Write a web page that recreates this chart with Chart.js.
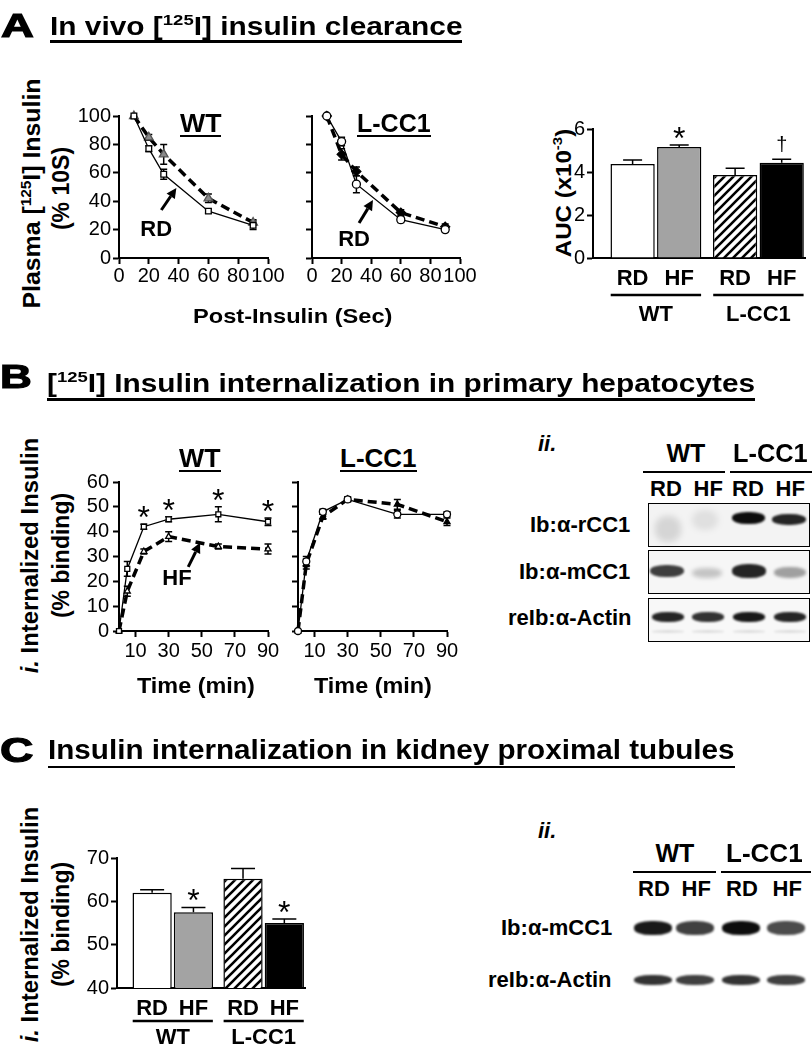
<!DOCTYPE html>
<html>
<head>
<meta charset="utf-8">
<script src="https://cdn.jsdelivr.net/npm/chart.js@4.4.1/dist/chart.umd.min.js"></script>
<style>
  body { margin: 0; background: #fff; }
  #fig { position: relative; width: 812px; height: 1050px; overflow: hidden; font-family: "Liberation Sans", Arial, sans-serif; color: #000; }
  #fig canvas { position: absolute; }
  .t { position: absolute; white-space: nowrap; line-height: 1; }
  .big { -webkit-text-stroke: 1.2px #000; }
  .sp { font-size: .62em; vertical-align: .62em; line-height: 0; }
  .ln { position: absolute; background: #000; }
  .box { position: absolute; border: 1.5px solid #000; box-sizing: border-box; }
  .band { position: absolute; border-radius: 45%; }
</style>
</head>
<body>
<div id="fig"></div>
<script>
// ---- data ----
// A: in vivo clearance (% of 10 s value)
const aTime = [10, 20, 30, 60, 90];
const aWtRd = [100, 77, 59, 33, 23];
const aWtRdErr = [0, 2, 3.5, 1.5, 3];
const aWtHf = [100, 85, 73, 42, 25];
const aWtHfErr = [0, 2, 7, 3, 2];
const aKoRd = [100, 82, 52, 27, 20];
const aKoRdErr = [0, 3, 6, 2, 1.5];
const aKoHf = [100, 73, 61, 32, 22];
const aKoHfErr = [0, 4, 3, 2, 2];
const aTicksX = [0, 20, 40, 60, 80, 100];

// A: AUC bars (x10^-3)
const barLabels = ['RD', 'HF', 'RD', 'HF'];
const barPos = [0, 1, 2.2, 3.2];
const groupNames = ['WT', 'L-CC1'];
const aucVals = [4.37, 5.16, 3.86, 4.43];
const aucErr = [0.19, 0.1, 0.31, 0.16];
const aucSig = ['', '*', '', '\u2020'];

// B: internalization in hepatocytes (% binding)
const bTime = [0, 5, 15, 30, 60, 90];
const bWtRd = [0, 25, 42, 45, 47, 44];
const bWtRdErr = [0, 3, 1, 1, 3, 1.5];
const bWtRdSig = ['', '', '*', '*', '*', '*'];
const bWtHf = [0, 16, 32, 38, 34, 33];
const bWtHfErr = [0, 2, 1, 2, 1, 2];
const bKoRd = [0, 28, 48, 53, 47, 47];
const bKoRdErr = [0, 2, 1, 1, 1.5, 1];
const bKoHf = [0, 27, 46, 53, 51, 44];
const bKoHfErr = [0, 2, 1, 1, 2, 1.5];
const bTicksX = [10, 30, 50, 70, 90];

// C: internalization in proximal tubules (% binding)
const cVals = [62, 57.5, 65.2, 55];
const cErr = [0.7, 1.1, 2.4, 0.9];
const cSig = ['', '*', '', '*'];

// ---- helpers ----
const fig = document.getElementById('fig');
const FONT = '"Liberation Sans", Arial, sans-serif';
Chart.defaults.font.family = FONT;
Chart.defaults.color = '#000';

function txt(html, x, base, size, o = {}) {
  const d = document.createElement('div');
  d.className = 't' + (o.big ? ' big' : '');
  d.innerHTML = html;
  d.style.fontSize = size + 'px';
  d.style.fontWeight = o.w || 'bold';
  fig.appendChild(d);
  const w0 = d.offsetWidth;
  const k = o.fit ? o.fit / w0 : 1;
  const w = w0 * k;
  const left = o.al === 'c' ? x - w / 2 : o.al === 'r' ? x - w : x;
  d.style.left = left + 'px';
  d.style.top = (base - 0.85 * size) + 'px';
  d.style.transformOrigin = '0 0';
  d.style.transform = 'scaleX(' + k + ')';
}
function vtxt(html, cx, cy, size, fit) {
  const d = document.createElement('div');
  d.className = 't';
  d.innerHTML = html;
  d.style.fontSize = size + 'px';
  d.style.fontWeight = 'bold';
  fig.appendChild(d);
  const w0 = d.offsetWidth;
  const k = fit ? fit / w0 : 1;
  d.style.left = (cx - w0 / 2) + 'px';
  d.style.top = (cy - size / 2) + 'px';
  d.style.transformOrigin = '50% 50%';
  d.style.transform = 'rotate(-90deg) scaleX(' + k + ')';
}
function line(x1, x2, y, t = 2.5) {
  const d = document.createElement('div');
  d.className = 'ln';
  d.style.cssText = `left:${x1}px;top:${y - t / 2}px;width:${x2 - x1}px;height:${t}px`;
  fig.appendChild(d);
}
function box(x, y, w, h, bg) {
  const d = document.createElement('div');
  d.className = 'box';
  d.style.cssText = `left:${x}px;top:${y}px;width:${w}px;height:${h}px;background:${bg}`;
  fig.appendChild(d);
}
function band(x, y, w, h, a, blur = 1.2) {
  const d = document.createElement('div');
  d.className = 'band';
  d.style.cssText = `left:${x}px;top:${y}px;width:${w}px;height:${h}px;background:rgba(0,0,0,${a});filter:blur(${blur}px)`;
  fig.appendChild(d);
}

function hatch() {
  const s = 9, c = document.createElement('canvas');
  c.width = c.height = s;
  const g = c.getContext('2d');
  g.fillStyle = '#fff'; g.fillRect(0, 0, s, s);
  g.strokeStyle = '#000'; g.lineWidth = 2.6; g.beginPath();
  g.moveTo(0, s); g.lineTo(s, 0);
  g.moveTo(-2, 2); g.lineTo(2, -2);
  g.moveTo(s - 2, s + 2); g.lineTo(s + 2, s - 2);
  g.stroke();
  return g.createPattern(c, 'repeat');
}

// error bars, significance marks, arrows and group rulers
const marks = {
  id: 'marks',
  beforeDatasetsDraw(chart) {
    const { ctx, scales: { y } } = chart;
    chart.data.datasets.forEach((ds, i) => {
      if (!ds.err) return;
      const meta = chart.getDatasetMeta(i);
      ctx.save();
      ctx.strokeStyle = '#000'; ctx.lineWidth = 1.5;
      meta.data.forEach((el, j) => {
        const e = ds.err[j]; if (!e) return;
        const v = ds.data[j].y;
        const top = y.getPixelForValue(v + e);
        const bot = ds.barErr ? y.getPixelForValue(v) : y.getPixelForValue(v - e);
        const w = ds.cap || 3.5;
        ctx.beginPath();
        ctx.moveTo(el.x, top); ctx.lineTo(el.x, bot);
        ctx.moveTo(el.x - w, top); ctx.lineTo(el.x + w, top);
        if (!ds.barErr) { ctx.moveTo(el.x - w, bot); ctx.lineTo(el.x + w, bot); }
        ctx.stroke();
      });
      ctx.restore();
    });
  },
  afterDraw(chart, args, opts) {
    const { ctx, scales: { x, y }, chartArea } = chart;
    ctx.save();
    ctx.fillStyle = '#000'; ctx.strokeStyle = '#000';
    chart.data.datasets.forEach((ds, i) => {
      if (!ds.sig) return;
      const meta = chart.getDatasetMeta(i);
      meta.data.forEach((el, j) => {
        const s = ds.sig[j]; if (!s) return;
        const top = y.getPixelForValue(ds.data[j].y + (ds.err ? ds.err[j] : 0));
        ctx.textAlign = 'center'; ctx.textBaseline = 'alphabetic';
        if (s === '*') { ctx.font = '32px ' + FONT; ctx.fillText(s, el.x, top + 4); }
        else { ctx.font = '20px ' + FONT; ctx.fillText(s, el.x, top - 8); }
      });
    });
    (opts.notes || []).forEach(n => {
      if (n.t) {
        ctx.font = 'bold 22px ' + FONT; ctx.textAlign = 'center'; ctx.textBaseline = 'middle';
        ctx.fillText(n.t, x.getPixelForValue(n.at[0]), y.getPixelForValue(n.at[1]));
      } else {
        const x1 = x.getPixelForValue(n.from[0]), y1 = y.getPixelForValue(n.from[1]);
        const x2 = x.getPixelForValue(n.to[0]), y2 = y.getPixelForValue(n.to[1]);
        const a = Math.atan2(y2 - y1, x2 - x1), L = 10, W = 5;
        const bx = x2 - L * Math.cos(a), by = y2 - L * Math.sin(a);
        ctx.lineWidth = 3; ctx.beginPath(); ctx.moveTo(x1, y1); ctx.lineTo(bx, by); ctx.stroke();
        ctx.beginPath(); ctx.moveTo(x2, y2);
        ctx.lineTo(bx + W * Math.sin(a), by - W * Math.cos(a));
        ctx.lineTo(bx - W * Math.sin(a), by + W * Math.cos(a));
        ctx.closePath(); ctx.fill();
      }
    });
    if (opts.groups) {
      const g = opts.groups;
      g.items.forEach(it => {
        const x1 = x.getPixelForValue(it.a - 0.47), x2 = x.getPixelForValue(it.b + 0.47);
        ctx.lineWidth = 2.5; ctx.beginPath();
        ctx.moveTo(x1, chartArea.bottom + g.lineY); ctx.lineTo(x2, chartArea.bottom + g.lineY); ctx.stroke();
        ctx.font = 'bold ' + g.fs + 'px ' + FONT; ctx.textAlign = 'center'; ctx.textBaseline = 'alphabetic';
        ctx.fillText(it.t, (x1 + x2) / 2, chartArea.bottom + g.textY);
      });
    }
    ctx.restore();
  }
};

function zero(s) { s.paddingLeft = s.paddingRight = s.paddingTop = s.paddingBottom = 0; }

function makeChart(f, cfg) {
  const cv = document.createElement('canvas');
  cv.width = f.W; cv.height = f.H;
  cv.style.cssText = `left:${f.L}px;top:${f.T}px;width:${f.W}px;height:${f.H}px`;
  fig.appendChild(cv);
  const o = cfg.options;
  o.responsive = false; o.animation = false; o.devicePixelRatio = 1;
  o.layout = { padding: { top: f.Y0 - f.T, right: f.L + f.W - f.X1, left: 0, bottom: 0 } };
  o.plugins = Object.assign({ legend: { display: false }, tooltip: { enabled: false } }, o.plugins || {});
  o.scales.y.afterFit = s => { s.width = f.X0 - f.L; zero(s); };
  o.scales.x.afterFit = s => { s.height = f.T + f.H - f.Y1; zero(s); };
  cfg.plugins = [marks];
  return new Chart(cv, cfg);
}

function axis(min, max, o = {}) {
  return {
    type: 'linear', min, max, offset: false,
    border: { display: true, color: '#000', width: 2 },
    grid: { drawOnChartArea: false, drawTicks: o.noTicks ? false : true, tickLength: o.tl ?? 6, tickWidth: 2, tickColor: '#000', offset: false },
    ticks: {
      stepSize: o.step, color: '#000', autoSkip: false, maxRotation: 0,
      font: { size: o.fs || 20, weight: o.bold ? 'bold' : 'normal' },
      padding: o.pad ?? 2,
      callback: o.cb
    },
    afterBuildTicks: o.ticks ? (s => { s.ticks = o.ticks.map(v => ({ value: v })); }) : undefined
  };
}

function series(xs, ys, err, st) {
  return Object.assign({
    data: xs.map((x, i) => ({ x, y: ys[i] })), err,
    borderColor: '#000', tension: 0, clip: false,
    pointBorderColor: '#000', pointBorderWidth: 1.3
  }, st);
}
const RD = { borderWidth: 1.3, pointBackgroundColor: '#fff' };
const HF = { borderWidth: 3.5, borderDash: [9, 5] };
const blank = () => '';

// ---- panel A ----
txt('A', 1, 37, 33, { fit: 33, big: true });
txt('In vivo [<span class="sp">125</span>I] insulin clearance', 50, 35, 25, { fit: 412 });
line(50, 462, 41.5);
txt('WT', 180, 132, 26, { fit: 41 }); line(180, 221, 135.5, 2);
txt('L-CC1', 357, 132, 26, { fit: 74 }); line(357, 431, 135.5, 2);
vtxt('Plasma [<span class="sp">125</span>I] Insulin', 32, 193, 23, 230);
vtxt('(% 10S)', 61, 188, 23, 83);
txt('Post-Insulin (Sec)', 193, 323, 21, { fit: 199 });
vtxt('AUC (x10<span class="sp">-3</span>)', 563, 193, 22, 128);

makeChart({ L: 60, T: 100, W: 230, H: 190, X0: 119, Y0: 116, X1: 268, Y1: 258 }, {
  type: 'line',
  data: { datasets: [
    series(aTime, aWtRd, aWtRdErr, Object.assign({ pointStyle: 'rect', pointRadius: 4 }, RD)),
    series(aTime, aWtHf, aWtHfErr, Object.assign({ pointStyle: 'triangle', pointRadius: 5, pointBackgroundColor: '#8a8a8a', pointBorderColor: '#555' }, HF))
  ] },
  options: {
    scales: { x: axis(0, 100, { step: 20, ticks: aTicksX, pad: 0 }), y: axis(0, 100, { step: 20 }) },
    plugins: { marks: { notes: [{ t: 'RD', at: [25, 20] }, { from: [28.4, 33.8], to: [38.5, 49.3] }] } }
  }
});

makeChart({ L: 280, T: 100, W: 205, H: 190, X0: 312, Y0: 116, X1: 460, Y1: 258 }, {
  type: 'line',
  data: { datasets: [
    series(aTime, aKoRd, aKoRdErr, Object.assign({ pointStyle: 'circle', pointRadius: 4 }, RD)),
    series(aTime, aKoHf, aKoHfErr, Object.assign({ pointStyle: 'rectRot', pointRadius: 4.5, pointBackgroundColor: '#000' }, HF))
  ] },
  options: {
    scales: { x: axis(0, 100, { step: 20, ticks: aTicksX, pad: 0 }), y: axis(0, 100, { step: 20, cb: blank }) },
    plugins: { marks: { notes: [{ t: 'RD', at: [28.4, 12.7] }, { from: [31.8, 24.6], to: [41.2, 40.8] }] } }
  }
});

function barSet(vals, err, sig, cap) {
  return {
    data: barPos.map((x, i) => ({ x, y: vals[i] })), err, sig, cap, barErr: true,
    backgroundColor: ['#fff', '#a3a3a3', hatch(), '#000'],
    borderColor: '#000', borderWidth: 1.5,
    barPercentage: 0.95, categoryPercentage: 1
  };
}
function barX() {
  return axis(-0.85, 3.7, { noTicks: true, ticks: barPos, fs: 22, bold: true, pad: 8, cb: (v, i) => barLabels[i] });
}
const groupItems = [{ t: groupNames[0], a: barPos[0], b: barPos[1] }, { t: groupNames[1], a: barPos[2], b: barPos[3] }];

makeChart({ L: 540, T: 100, W: 272, H: 230, X0: 593, Y0: 129, X1: 805, Y1: 258 }, {
  type: 'bar',
  data: { datasets: [barSet(aucVals, aucErr, aucSig, 9.5)] },
  options: {
    scales: { x: barX(), y: axis(0, 6, { step: 2 }) },
    plugins: { marks: { groups: { items: groupItems, lineY: 37, textY: 63, fs: 22 } } }
  }
});

// ---- panel B ----
txt('B', 0, 388, 33, { fit: 32, big: true });
txt('[<span class="sp">125</span>I] Insulin internalization in primary hepatocytes', 47, 392, 25, { fit: 708 });
line(47, 755, 399.5);
txt('WT', 179, 467, 26, { fit: 41 }); line(179, 221, 471, 2);
txt('L-CC1', 340, 467, 26, { fit: 77 }); line(340, 417, 471, 2);
vtxt('<i>i.</i> Internalized Insulin', 30, 555, 23, 235);
vtxt('(% binding)', 61, 555, 23);
txt('Time (min)', 196, 694, 22, { al: 'c', fit: 118 });
txt('Time (min)', 373, 694, 22, { al: 'c', fit: 118 });

makeChart({ L: 60, T: 460, W: 225, H: 210, X0: 119, Y0: 482, X1: 268, Y1: 631 }, {
  type: 'line',
  data: { datasets: [
    Object.assign(series(bTime, bWtRd, bWtRdErr, Object.assign({ pointStyle: 'rect', pointRadius: 3.5 }, RD)), { sig: bWtRdSig }),
    series(bTime, bWtHf, bWtHfErr, Object.assign({ pointStyle: 'triangle', pointRadius: 3.5, pointBackgroundColor: '#fff' }, HF))
  ] },
  options: {
    scales: { x: axis(0, 90, { ticks: bTicksX, pad: 2 }), y: axis(0, 60, { step: 10, pad: 4 }) },
    plugins: { marks: { notes: [{ t: 'HF', at: [35, 21] }, { from: [41.8, 25.8], to: [49, 35.5] }] } }
  }
});

makeChart({ L: 270, T: 460, W: 200, H: 210, X0: 298, Y0: 482, X1: 447, Y1: 631 }, {
  type: 'line',
  data: { datasets: [
    series(bTime, bKoRd, bKoRdErr, Object.assign({ pointStyle: 'circle', pointRadius: 3.5 }, RD)),
    series(bTime, bKoHf, bKoHfErr, Object.assign({ pointStyle: 'triangle', pointRadius: 3.5, pointBackgroundColor: '#000' }, HF))
  ] },
  options: {
    scales: { x: axis(0, 90, { ticks: bTicksX, pad: 2 }), y: axis(0, 60, { step: 10, cb: blank }) }
  }
});

// B ii. immunoblots
txt('<i>ii.</i>', 538, 452, 22);
txt('WT', 686, 462, 25, { al: 'c' });
txt('L-CC1', 770, 462, 25, { al: 'c', fit: 75 });
line(643, 725, 472); line(730, 812, 472);
[['RD', 666], ['HF', 708], ['RD', 748], ['HF', 790]].forEach(l => txt(l[0], l[1], 497, 22, { al: 'c' }));
txt('Ib:\u03b1-rCC1', 630, 533, 22, { al: 'r' });
txt('Ib:\u03b1-mCC1', 630, 580, 22, { al: 'r' });
txt('reIb:\u03b1-Actin', 632, 626, 22, { al: 'r' });
box(648, 503, 162, 44, '#f3f3f3');
box(648, 550, 162, 44, '#f6f6f6');
box(648, 598, 162, 44, '#f8f8f8');
band(655, 516, 26, 26, 0.12, 3); band(692, 510, 26, 20, 0.08, 3);
band(732, 512, 33, 12, 0.95); band(772, 514, 34, 11, 0.85);
band(650, 565, 34, 12, 0.75); band(692, 568, 30, 10, 0.2, 2);
band(732, 564, 34, 14, 0.85); band(774, 567, 32, 11, 0.35, 1.5);
[652, 692, 733, 774].forEach((x, i) => { band(x, 612, 32, 10, [0.85, 0.8, 0.9, 0.85][i]); band(x, 630, 32, 3, 0.1, 1); });

// ---- panel C ----
txt('C', 0, 762, 35, { fit: 33, big: true });
txt('Insulin internalization in kidney proximal tubules', 48, 760, 27, { fit: 687 });
line(48, 735, 767);
vtxt('<i>i.</i> Internalized Insulin', 30, 924, 23, 235);
vtxt('(% binding)', 61, 924, 23);

makeChart({ L: 60, T: 830, W: 250, H: 220, X0: 117, Y0: 858, X1: 305, Y1: 988 }, {
  type: 'bar',
  data: { datasets: [barSet(cVals, cErr, cSig, 12)] },
  options: {
    scales: { x: barX(), y: axis(40, 70, { step: 10 }) },
    plugins: { marks: { groups: { items: groupItems, lineY: 33, textY: 56, fs: 22 } } }
  }
});

// C ii. immunoblots
txt('<i>ii.</i>', 538, 839, 22);
txt('WT', 675, 862, 25, { al: 'c' });
txt('L-CC1', 764, 862, 25, { al: 'c', fit: 77 });
line(633, 716, 872); line(721, 811, 872);
[['RD', 654], ['HF', 696], ['RD', 742], ['HF', 787]].forEach(l => txt(l[0], l[1], 897, 22, { al: 'c' }));
txt('Ib:\u03b1-mCC1', 612, 936, 22, { al: 'r' });
txt('reIb:\u03b1-Actin', 612, 988, 22, { al: 'r' });
[634, 676, 722, 767].forEach((x, i) => band(x, 921, 38, 14, [0.9, 0.75, 0.95, 0.7][i]));
[634, 676, 722, 767].forEach((x, i) => band(x, 975, 38, 10, [0.8, 0.75, 0.8, 0.75][i]));
</script>
</body>
</html>
